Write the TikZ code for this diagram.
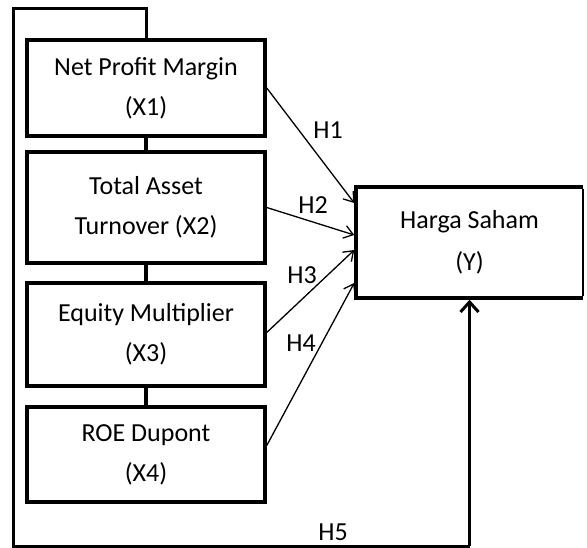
\documentclass[tikz,border=0pt]{standalone}
\usepackage{fontspec}
\setmainfont{Carlito}
\usetikzlibrary{arrows.meta,calc}
\begin{document}
\begin{tikzpicture}[x=1pt,y=-1pt,
  varbox/.style={draw, line width=3.5pt, minimum width=238pt, align=center,
    font=\fontsize{26}{40}\selectfont, inner sep=0pt},
  ybox/.style={minimum width=227pt, minimum height=111pt, outer sep=0pt,
    align=center, font=\fontsize{26}{42}\selectfont, inner sep=0pt},
  yedge/.style={line width=3.5pt, line cap=butt, line join=miter},
  ythin/.style={line width=1.2pt},
  hyp/.style={line width=1.3pt, -{Straight Barb[length=9pt,width=13pt,line width=1.3pt]}},
  loopline/.style={line width=3pt},
  link/.style={line width=3.5pt},
  lbl/.style={font=\fontsize{26}{30}\selectfont, inner sep=0pt}]
\useasboundingbox (0,0) rectangle (587,548);
\node[varbox, minimum height=96pt] (x1) at (146,88) {Net Profit Margin\\(X1)};
\node[varbox, minimum height=111pt] (x2) at (146,207.5) {Total Asset\\Turnover (X2)};
\node[varbox, minimum height=103pt] (x3) at (146,334.5) {Equity Multiplier\\(X3)};
\node[varbox, minimum height=95pt] (x4) at (146,454.5) {ROE Dupont\\(X4)};
\node[ybox] (y) at (469.5,242.5) {Harga Saham\\(Y)};
\draw[yedge] (y.north east) -- (y.north west) -- (y.south west) -- (y.south east);
\draw[ythin] ([yshift=-1.75pt]y.north east) -- ([yshift=1.75pt]y.south east);
\coordinate (tl) at (13,9);
\coordinate (bl) at (13,546);
\draw[link] (x1.south) -- (x2.north);
\draw[link] (x2.south) -- (x3.north);
\draw[link] (x3.south) -- (x4.north);
\draw[loopline] (x1.north) -- (x1.north |- tl) -- (tl) -- (bl) -- (bl -| y.south);
\draw[line width=3pt, -{Straight Barb[length=10pt,width=18pt,line width=3pt]}] (bl -| y.south) -- ([yshift=-1.75pt]y.south);
\draw[hyp] (x1.east) -- ([xshift=-1.75pt,yshift=39.5pt]y.west);
\draw[hyp] (x2.east) -- ([xshift=-1.75pt,yshift=7.5pt]y.west);
\draw[hyp] ([yshift=2pt]x3.east) -- ([xshift=-1.75pt,yshift=-7.5pt]y.west);
\draw[hyp] ([yshift=9pt]x4.east) -- ([xshift=-1.75pt,yshift=-40.5pt]y.west);
\node[lbl] (h1) at (328,130) {H1};
\node[lbl] (h2) at (313,205) {H2};
\node[lbl] (h3) at (302,275) {H3};
\node[lbl] (h4) at (301,343) {H4};
\node[lbl] (h5) at (333,532) {H5};
\end{tikzpicture}
\end{document}
